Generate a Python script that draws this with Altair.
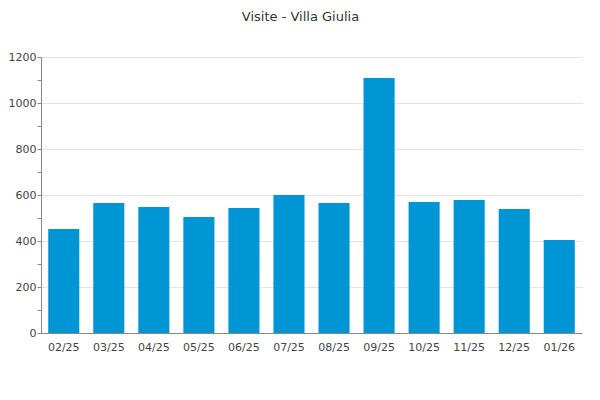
import altair as alt
import pandas as pd

months = ["02/25", "03/25", "04/25", "05/25", "06/25", "07/25",
          "08/25", "09/25", "10/25", "11/25", "12/25", "01/26"]
visits = [452, 565, 548, 504, 543, 600, 565, 1109, 570, 578, 539, 404]
y_ticks = list(range(0, 1201, 100))

df = pd.DataFrame({"month": months, "visits": visits})

FONT = "DejaVu Sans"

bars = alt.Chart(df).mark_bar(color="#0096d6").encode(
    x=alt.X("month:N", sort=months, title=None,
            scale=alt.Scale(paddingInner=0.31, paddingOuter=0.16),
            axis=alt.Axis(labelAngle=0, ticks=False, labelPadding=8,
                          domainColor="#888888", labelColor="#444444",
                          labelFontSize=11, labelFont=FONT, grid=False)),
    y=alt.Y("visits:Q", title=None,
            scale=alt.Scale(domain=[0, 1200], nice=False),
            axis=alt.Axis(values=y_ticks, format="d",
                          labelExpr="datum.value % 200 === 0 ? datum.label : ''",
                          tickSize=4, tickColor="#888888", domainColor="#888888",
                          labelColor="#444444", labelFontSize=11, labelFont=FONT,
                          labelPadding=1,
                          grid=True, gridColor="#e4e4e4",
                          gridOpacity={"condition": {"test": "datum.value % 200 === 0", "value": 1}, "value": 0})),
)

chart = bars.properties(
    width=541, height=276,
    title=alt.TitleParams("Visite - Villa Giulia", font=FONT, fontSize=13,
                          fontWeight="normal", color="#333333", offset=27, dx=-11),
    autosize=alt.AutoSizeParams(type="none"),
    padding={"left": 33, "top": 49, "right": 10, "bottom": 40},
).configure_view(stroke=None)

chart.save("out.html", embed_options={"renderer": "svg", "actions": False})
